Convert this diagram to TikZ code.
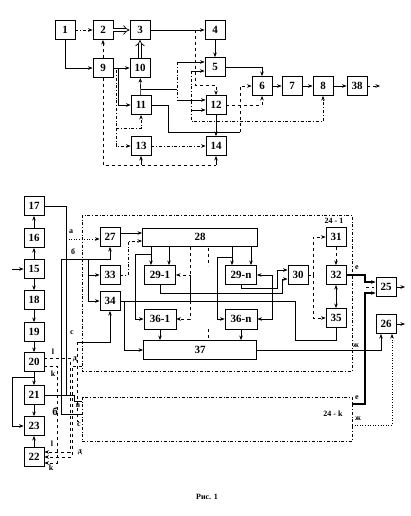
\documentclass[tikz,border=0pt]{standalone}
\usepackage{fontspec}
\setmainfont{Liberation Serif}
\usetikzlibrary{arrows.meta}
\begin{document}
\begin{tikzpicture}[x=1pt,y=-1pt,
  blk/.style={draw, line width=0.9pt, minimum width=20pt, minimum height=19pt, inner sep=0pt, font=\fontsize{11}{12}\selectfont\bfseries},
  arr/.style={-{Stealth[length=4.5pt,width=3.5pt]}, line width=0.6pt},
  arr2/.style={{Stealth[length=4.5pt,width=3.5pt]}-{Stealth[length=4.5pt,width=3.5pt]}, line width=0.6pt},
  ln/.style={line width=0.6pt},
  dbl/.style={double, double distance=2.6pt, line width=0.7pt, -{Implies}},
  frm/.style={dash dot, line width=0.9pt},
  lbl/.style={font=\fontsize{8}{9}\selectfont\bfseries, inner sep=0pt}]
\fill[white] (0,0) rectangle (410,516);
\useasboundingbox (0,0) rectangle (410,516);
% ---------- top diagram ----------
\node[blk] (n1) at (65,30) {1};
\node[blk] (n2) at (103,30) {2};
\node[blk] (n3) at (140,30) {3};
\node[blk] (n4) at (215,30) {4};
\node[blk] (n9) at (103,68) {9};
\node[blk] (n10) at (140,68) {10};
\node[blk] (n5) at (215,67) {5};
\node[blk] (n11) at (141,105) {11};
\node[blk] (n12) at (216,105) {12};
\node[blk] (n13) at (141,146) {13};
\node[blk] (n14) at (216,146) {14};
\node[blk] (n6) at (262,86) {6};
\node[blk] (n7) at (292,86) {7};
\node[blk] (n8) at (323,86) {8};
\node[blk] (n38) at (357,86) {38};
\coordinate (o38) at (380,86);

\draw[arr,dash dot] (n1) -- (n2);
\draw[dbl] (n2) -- (n3);
\draw[arr] (n3) -- (n4);
\draw[arr] (n4) -- (n5);
\draw[arr] (n1.south) |- (n9.west);
\draw[arr,dashed] (n9) -- (n2);
\draw[arr] (n9) -- (n10);
\draw[dbl] (n10) -- (n3);
\draw[arr] (n11) -- (n10);
\draw[ln] (141,89) -- (177,89);
\draw[ln,dash dot] (177,62) -- (177,100);
\draw[arr] (177,62) -- (n5.west |- 0,62);
\draw[arr] (177,100) -- (n12.west |- 0,100);
\draw[arr] (191,71) -- (n5.west |- 0,71);
\draw[arr] (191,110) -- (n12.west |- 0,110);
\draw[arr,dash dot] (191,71) -- (191,121) -| (n8.south);
\draw[arr,dashed] (195,30) -- (195,85) -| (n12.north);
\draw[arr] (n5.east) -| (n6.north);
\draw[arr,dashed] (n12.east) -| (n6.south);
\draw[ln] (n11.east) -- (168,105) -- (168,132) -- (240,132);
\draw[arr,dashed] (240,132) |- (n6.west);
\draw[arr] (n12) -- (n14);
\draw[arr] (n6) -- (n7);
\draw[arr] (n7) -- (n8);
\draw[arr] (n8) -- (n38);
\draw[arr,dashed] (n38) -- (o38);
\draw[ln,dashed] (n9.south) -- (103,165) -- (216,165);
\draw[arr] (141,165) -- (n13.south);
\draw[arr] (216,165) -- (n14.south);
\draw[arr] (118,68) |- (n11.west);
\draw[ln,dash dot] (116,70) -- (116,128);
\draw[arr,dash dot] (116,128) |- (n13.west);
\draw[arr,dash dot] (116,128) -| (n11.south);
\draw[arr,dash dot] (n13) -- (n14);

% ---------- bottom diagram ----------
\node[blk] (n17) at (34,206) {17};
\node[blk] (n16) at (34,238) {16};
\node[blk] (n15) at (34,269) {15};
\node[blk] (n18) at (34,300) {18};
\node[blk] (n19) at (34,332) {19};
\node[blk] (n20) at (34,362) {20};
\node[blk] (n21) at (34,395) {21};
\node[blk] (n23) at (34,426) {23};
\node[blk] (n22) at (34,457) {22};
\coordinate (in15) at (12,269);

\node[blk] (n27) at (110,237) {27};
\node[blk] (n33) at (110,275) {33};
\node[blk] (n34) at (110,301) {34};
\node[blk, minimum width=115pt, minimum height=18pt] (n28) at (200,237) {28};
\node[blk, minimum width=31pt] (n291) at (160,275) {29-1};
\node[blk, minimum width=31pt] (n29n) at (241,275) {29-n};
\node[blk] (n30) at (298,275) {30};
\node[blk] (n31) at (336,237) {31};
\node[blk] (n32) at (336,275) {32};
\node[blk] (n35) at (336,318) {35};
\node[blk] (n25) at (386,287) {25};
\node[blk] (n26) at (386,324) {26};
\node[blk, minimum width=32pt, minimum height=20pt] (n361) at (160,319) {36-1};
\node[blk, minimum width=32pt, minimum height=20pt] (n36n) at (241,319) {36-n};
\node[blk, minimum width=113pt] (n37) at (200,350) {37};

% frames
\draw[frm] (82,215) rectangle (352,371);
\draw[frm] (82,397) rectangle (352,441);
\node[lbl] (t241) at (334,221) {24 - 1};
\node[lbl] (t24k) at (333,414) {24 - k};

% left column
\draw[arr] (in15) -- (n15);
\draw[arr] (n15) -- (n16);
\draw[arr] (n16) -- (n17);
\draw[arr] (n15) -- (n18);
\draw[arr] (n18) -- (n19);
\draw[arr] (n19) -- (n20);
\draw[arr] (n20) -- (n21);
\draw[arr] (n21) -- (n23);
\draw[arr] (n22) -- (n23);
\draw[arr] (34,377) -- (12,377) |- (n23.west);

% buses
\draw[ln] (n17.east) -- (66,206) -- (66,395);
\draw[arr,dotted] (66,239) -- (n27.west |- 0,239);
\node[lbl] (la) at (71,232) {а};
\draw[arr] (61,259) -| (n27.south);
\draw[ln] (61,259) -- (61,414) -- (82,414);
\draw[arr] (88,259) |- (n33.west);
\draw[arr] (88,275) |- (n34.west);
\node[lbl] (lb) at (73,252) {б};
\node[lbl,font=\fontsize{11}{12}\selectfont\bfseries] (lb2) at (55,412) {б};
\draw[arr] (77,342) -| (n34.south);
\draw[ln,dashed] (77,342) -- (77,421) -- (82,421);
\node[lbl] (lc) at (72,333) {с};
\node[lbl] (lc2) at (79,425) {с};
\draw[ln] (n21.east) -- (74,395) -- (74,401) -- (82,401);
\node[lbl] (lv) at (78,406) {в};
\draw[arr,dashed] ([yshift=4pt]n20.east) -- ++(26,0) |- ([yshift=5pt]n22.east);
\draw[arr,dashed] ([yshift=-4pt]n20.east) -- ++(13,0) |- ([yshift=-6pt]n22.east);
\draw[arr,dashed] (82,366) -- (72,366) |- (n22.east);
\node[lbl] (ll) at (53,352) {l};
\node[lbl] (lk) at (53,374) {k};
\node[lbl] (ld) at (75,359) {д};
\node[lbl] (ll2) at (52,444) {l};
\node[lbl] (lk2) at (51,468) {k};
\node[lbl] (ld2) at (80,452) {д};

% inside 24-1
\draw[arr] ([yshift=4pt]n27.east) -- ([yshift=4pt]n28.west);
\draw[arr,dash dot] (n33.east) -- (128,275) |- ([yshift=-4pt]n28.west);
\draw[arr] ([xshift=-9pt]n291.north |- n28.south) -- ([xshift=-9pt]n291.north);
\draw[arr] ([xshift=9pt]n291.north |- n28.south) -- ([xshift=9pt]n291.north);
\draw[arr] ([xshift=-9pt]n29n.north |- n28.south) -- ([xshift=-9pt]n29n.north);
\draw[arr] ([xshift=10pt]n29n.north |- n28.south) -- ([xshift=10pt]n29n.north);
\draw[arr] (151,254) -- (135,254) |- (n361.west);
\draw[arr] (232,257) -- (217,257) |- (n36n.west);
\draw[ln] (n34.east) -- (295,301) -- (295,340) -| (n35.south);
\draw[arr] (124,301) |- (n37.west);
\draw[ln,dashed] (190,247) -- (190,301);
\draw[arr,dashed] (190,301) |- (n291.east);
\draw[arr,dashed] (190,301) |- (n361.east);
\draw[arr] (272,301) |- (n29n.east);
\draw[arr] (272,301) |- (n36n.east);
\draw[arr] (n291.south) |- (282,293) |- ([yshift=-4pt]n30.west);
\draw[arr] (n29n.south) |- (277,288) |- ([yshift=5pt]n30.west);
\draw[ln,dashed] (n30.east) -- (313,275);
\draw[arr,dashed] (313,275) |- (n31.west);
\draw[arr,dashed] (313,275) |- (n35.west);
\draw[arr,dashed] (n31) -- (n32);
\draw[arr2] (n32) -- (n35);
\draw[arr] (n361) -- (n361 |- n37.north);
\draw[arr] (n36n) -- (n36n |- n37.north);
\draw[ln,dashed] (208,248) -- (208,266);
\draw[ln,dashed] (208,329) -- (208,340);

% outputs
\draw[arr,line width=1.1pt] (n32.east) -- (365,275) |- ([yshift=5pt]n25.west);
\draw[arr,line width=1.1pt] (352,404) -- (365,404) |- ([yshift=-6pt]n25.west);
\draw[ln,dashed] (366,287.5) -- (374,287.5);
\node[lbl] (le1) at (357,268) {е};
\node[lbl] (le2) at (357,398) {е};
\draw[arr] (n37.east) -| ([xshift=-5pt]n26.south);
\draw[arr,dotted] (352,425) -| ([xshift=6pt]n26.south);
\node[lbl] (lz1) at (356,346) {ж};
\node[lbl] (lz2) at (358,419) {ж};
\draw[arr] (n25.east) -- (405,287);
\draw[arr] (n26.east) -- (405,324);

\node[lbl,font=\fontsize{8}{9}\selectfont\bfseries] (cap) at (207,497) {Рис. 1};
\end{tikzpicture}
\end{document}
